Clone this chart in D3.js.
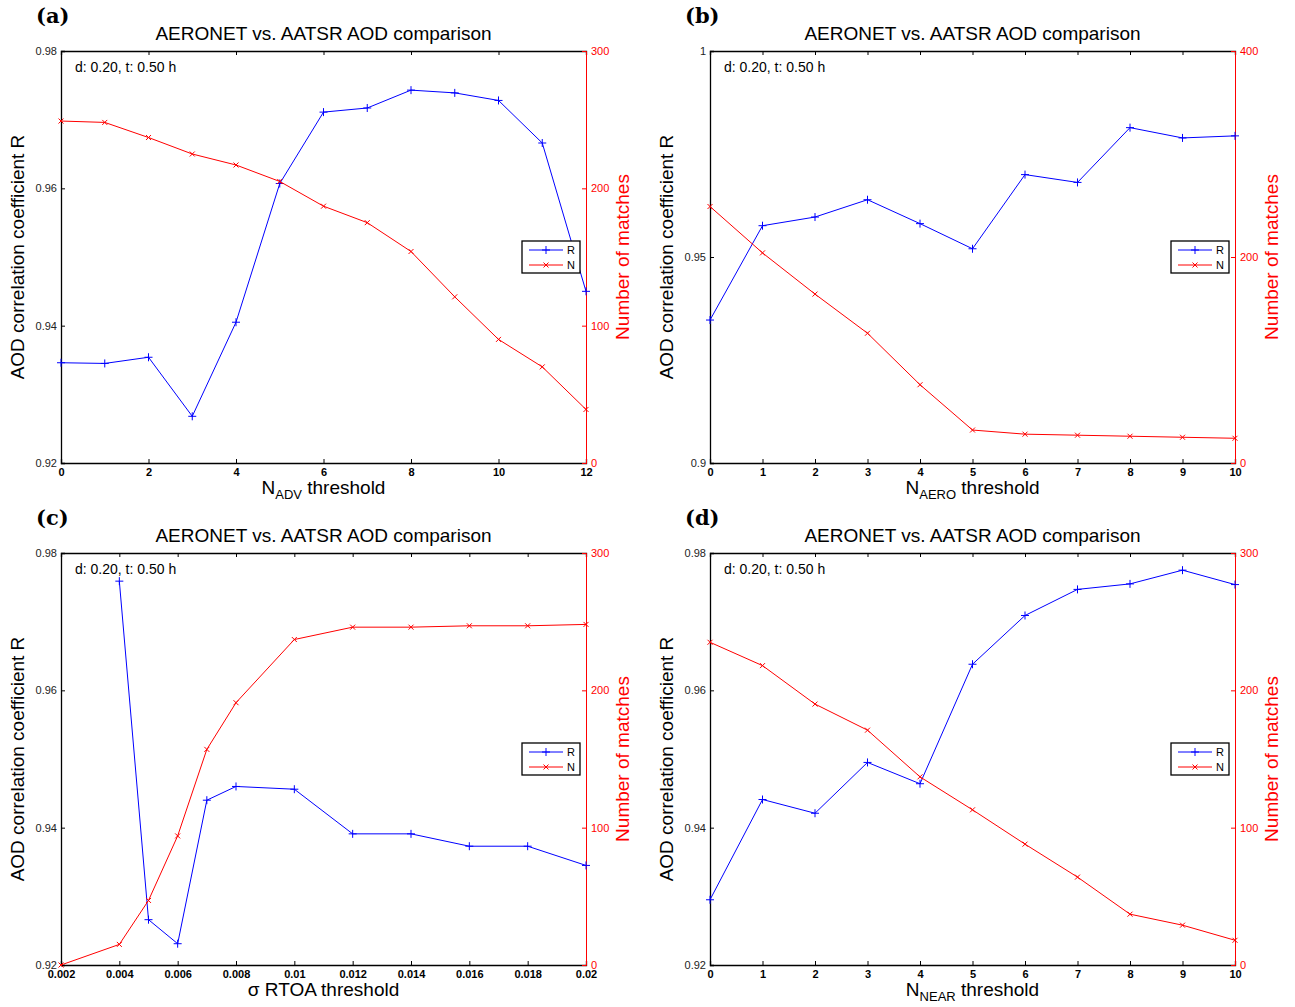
<!DOCTYPE html>
<html>
<head>
<meta charset="utf-8">
<script src="https://cdn.jsdelivr.net/npm/d3@7"></script>
<style>
  body { margin: 0; background: #fff; }
  svg text { font-family: "Liberation Sans", Helvetica, Arial, sans-serif; }
</style>
</head>
<body>
<svg id="fig" width="1295" height="1007"></svg>
<script>
const width = 1295;
const height = 1007;

// panel (a): N_ADV threshold
const xA = [0, 1, 2, 3, 4, 5, 6, 7, 8, 9, 10, 11, 12];
const rA = [0.9346, 0.9345, 0.9354, 0.9268, 0.9405, 0.9607, 0.9711, 0.9717, 0.9743, 0.9739, 0.9728, 0.9666, 0.9450];
const nA = [249, 248, 237, 225, 217, 205, 187, 175, 154, 121, 90, 70, 39];

// panel (b): N_AERO threshold
const xB = [0, 1, 2, 3, 4, 5, 6, 7, 8, 9, 10];
const rB = [0.9347, 0.9576, 0.9597, 0.9639, 0.9581, 0.9520, 0.9700, 0.9681, 0.9814, 0.9789, 0.9794];
const nB = [249, 204, 164, 126, 76, 32, 28, 27, 26, 25, 24];

// panel (c): sigma RTOA threshold (no R value at 0.002)
const xC = [0.002, 0.004, 0.005, 0.006, 0.007, 0.008, 0.01, 0.012, 0.014, 0.016, 0.018, 0.02];
const rC = [null, 0.9759, 0.9266, 0.9231, 0.9440, 0.9460, 0.9456, 0.9391, 0.9391, 0.9373, 0.9373, 0.9345];
const nC = [0, 15, 47, 94, 157, 191, 237, 246, 246, 247, 247, 248];

// panel (d): N_NEAR threshold
const xD = [0, 1, 2, 3, 4, 5, 6, 7, 8, 9, 10];
const rD = [0.9295, 0.9441, 0.9421, 0.9495, 0.9464, 0.9638, 0.9709, 0.9747, 0.9755, 0.9775, 0.9754];
const nD = [235, 218, 190, 171, 137, 113, 88, 64, 37, 29, 18];

// tick labels
const xTicksA = [0, 2, 4, 6, 8, 10, 12];
const xTicksB = [0, 1, 2, 3, 4, 5, 6, 7, 8, 9, 10];
const xTicksC = [0.002, 0.004, 0.006, 0.008, 0.01, 0.012, 0.014, 0.016, 0.018, 0.02];
const rTicks = [0.92, 0.94, 0.96, 0.98];
const rTicksB = [0.9, 0.95, 1];
const nTicks = [0, 100, 200, 300];
const nTicksB = [0, 200, 400];

const titleText = "AERONET vs. AATSR AOD comparison";
const noteText = "d: 0.20, t: 0.50 h";

const panels = [
  {letter: "(a)", ox: 0, oy: 0, x: xA, r: rA, n: nA, xDom: [0, 12], rDom: [0.92, 0.98], nDom: [0, 300],
   xTicks: xTicksA, rTicks: rTicks, nTicks: nTicks, xMain: "N", xSub: "ADV", xRest: " threshold"},
  {letter: "(b)", ox: 649, oy: 0, x: xB, r: rB, n: nB, xDom: [0, 10], rDom: [0.9, 1], nDom: [0, 400],
   xTicks: xTicksB, rTicks: rTicksB, nTicks: nTicksB, xMain: "N", xSub: "AERO", xRest: " threshold"},
  {letter: "(c)", ox: 0, oy: 502, x: xC, r: rC, n: nC, xDom: [0.002, 0.02], rDom: [0.92, 0.98], nDom: [0, 300],
   xTicks: xTicksC, rTicks: rTicks, nTicks: nTicks, xMain: "σ RTOA threshold", xSub: "", xRest: ""},
  {letter: "(d)", ox: 649, oy: 502, x: xD, r: rD, n: nD, xDom: [0, 10], rDom: [0.92, 0.98], nDom: [0, 300],
   xTicks: xTicksB, rTicks: rTicks, nTicks: nTicks, xMain: "N", xSub: "NEAR", xRest: " threshold"}
];

const svg = d3.select("#fig");

// plot box inside each panel
const boxL = 61, boxR = 586, boxT = 51, boxB = 463;

function plusPath(s) { return `M${-s},0H${s}M0,${-s}V${s}`; }
function crossPath(s) { return `M${-s},${-s}L${s},${s}M${-s},${s}L${s},${-s}`; }

panels.forEach(function(p){
  const g = svg.append("g").attr("transform", `translate(${p.ox}, ${p.oy})`);

  const x = d3.scaleLinear().domain(p.xDom).range([boxL, boxR]);
  const yR = d3.scaleLinear().domain(p.rDom).range([boxB, boxT]);
  const yN = d3.scaleLinear().domain(p.nDom).range([boxB, boxT]);

  // panel letter
  g.append("text")
    .attr("x", 36).attr("y", 23)
    .style("font-family", "'DejaVu Serif', 'Liberation Serif', serif")
    .style("font-weight", "bold")
    .style("font-size", "21px")
    .text(p.letter);

  // title
  g.append("text")
    .attr("x", (boxL + boxR) / 2).attr("y", 40)
    .attr("text-anchor", "middle")
    .style("font-size", "19px")
    .text(titleText);

  // bottom axis + top edge
  const xAxisB = d3.axisBottom(x).tickValues(p.xTicks).tickSize(-4).tickPadding(5)
    .tickFormat(d3.format("~g"));
  const gx = g.append("g").attr("transform", `translate(0, ${boxB})`).call(xAxisB);
  gx.selectAll("text").style("font-size", "11px").style("font-weight", "bold").attr("fill", "#000");

  const xAxisT = d3.axisTop(x).tickValues(p.xTicks).tickSize(-4).tickFormat("");
  const gt = g.append("g").attr("transform", `translate(0, ${boxT})`).call(xAxisT);

  // left R axis
  const yAxisL = d3.axisLeft(yR).tickValues(p.rTicks).tickSize(-4).tickPadding(4)
    .tickFormat(d3.format("~g"));
  const gl = g.append("g").attr("transform", `translate(${boxL}, 0)`).call(yAxisL);
  gl.selectAll("text").style("font-size", "11px").attr("fill", "#222");

  // right N axis (red)
  const yAxisR = d3.axisRight(yN).tickValues(p.nTicks).tickSize(-4).tickPadding(5);
  const gr = g.append("g").attr("transform", `translate(${boxR}, 0)`).call(yAxisR);
  gr.select(".domain").attr("stroke", "#ff0000");
  gr.selectAll("line").attr("stroke", "#ff0000");
  gr.selectAll("text").style("font-size", "11px").attr("fill", "#ff0000");

  [gx, gl, gt].forEach(function(a){
    a.select(".domain").attr("stroke", "#000").attr("stroke-width", 1.3);
  });

  // axis labels
  g.append("text")
    .attr("transform", `translate(24, ${(boxT + boxB) / 2}) rotate(-90)`)
    .attr("text-anchor", "middle")
    .style("font-size", "19px")
    .text("AOD correlation coefficient R");

  g.append("text")
    .attr("transform", `translate(629, ${(boxT + boxB) / 2}) rotate(-90)`)
    .attr("text-anchor", "middle")
    .attr("fill", "#ff0000")
    .style("font-size", "19px")
    .text("Number of matches");

  const xl = g.append("text")
    .attr("x", (boxL + boxR) / 2).attr("y", 494)
    .attr("text-anchor", "middle")
    .style("font-size", "19px");
  xl.append("tspan").text(p.xMain);
  if (p.xSub) {
    xl.append("tspan").attr("dy", 5).style("font-size", "13px").text(p.xSub);
    xl.append("tspan").attr("dy", -5).text(p.xRest);
  }

  // note
  g.append("text")
    .attr("x", 75).attr("y", 72)
    .style("font-size", "14px")
    .text(noteText);

  // R line (blue)
  const ptsR = p.x.map(function(d, i){ return {x: d, v: p.r[i]}; });
  const lineR = d3.line()
    .defined(function(d){ return d.v !== null; })
    .x(function(d){ return x(d.x); })
    .y(function(d){ return yR(d.v); });
  g.append("path").datum(ptsR)
    .attr("d", lineR).attr("fill", "none").attr("stroke", "#0000ff").attr("stroke-width", 1);
  g.selectAll(".mR").data(ptsR.filter(function(d){ return d.v !== null; }))
    .enter().append("path")
      .attr("transform", function(d){ return `translate(${x(d.x)}, ${yR(d.v)})`; })
      .attr("d", plusPath(4))
      .attr("stroke", "#0000ff").attr("fill", "none");

  // N line (red)
  const ptsN = p.x.map(function(d, i){ return {x: d, v: p.n[i]}; });
  const lineN = d3.line()
    .x(function(d){ return x(d.x); })
    .y(function(d){ return yN(d.v); });
  g.append("path").datum(ptsN)
    .attr("d", lineN).attr("fill", "none").attr("stroke", "#ff0000").attr("stroke-width", 1);
  g.selectAll(".mN").data(ptsN)
    .enter().append("path")
      .attr("transform", function(d){ return `translate(${x(d.x)}, ${yN(d.v)})`; })
      .attr("d", crossPath(2.5))
      .attr("stroke", "#ff0000").attr("fill", "none");

  // legend
  const lg = g.append("g").attr("transform", `translate(${boxR - 64}, 241)`);
  lg.append("rect").attr("width", 58).attr("height", 32)
    .attr("fill", "#fff").attr("stroke", "#000").attr("stroke-width", 1.3);
  lg.append("line").attr("x1", 7).attr("x2", 41).attr("y1", 9).attr("y2", 9).attr("stroke", "#0000ff");
  lg.append("path").attr("transform", "translate(24, 9)").attr("d", plusPath(4)).attr("stroke", "#0000ff");
  lg.append("text").attr("x", 45).attr("y", 13).style("font-size", "11px").text("R");
  lg.append("line").attr("x1", 7).attr("x2", 41).attr("y1", 24).attr("y2", 24).attr("stroke", "#ff0000");
  lg.append("path").attr("transform", "translate(24, 24)").attr("d", crossPath(2.5)).attr("stroke", "#ff0000");
  lg.append("text").attr("x", 45).attr("y", 28).style("font-size", "11px").text("N");
});
</script>
</body>
</html>
